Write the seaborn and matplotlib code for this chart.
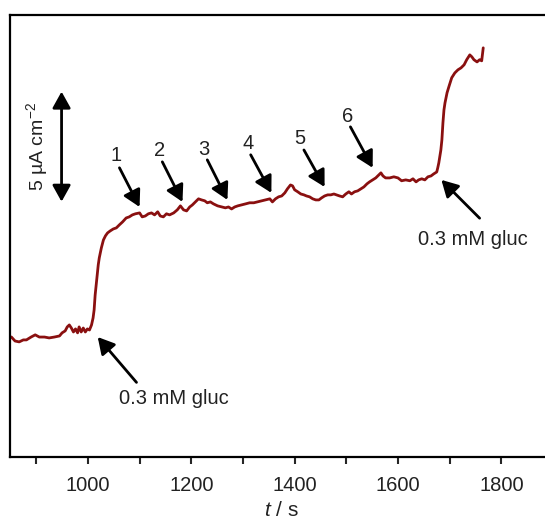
import matplotlib
matplotlib.use("Agg")
import matplotlib.pyplot as plt
import seaborn as sns
import pandas as pd
from matplotlib.ticker import MultipleLocator

sns.set_style("ticks")
plt.rcParams['font.family'] = ['Liberation Sans', 'DejaVu Sans']
plt.rcParams['mathtext.fontset'] = 'custom'
plt.rcParams['mathtext.rm'] = 'Liberation Sans'
plt.rcParams['mathtext.it'] = 'Liberation Sans:italic'

# time (s)
t = [848, 852, 859, 867, 875, 881, 890, 898, 906, 916, 925, 935, 945, 950, 956, 960,
     964, 968, 972, 976, 980, 983, 987, 991, 995, 999, 1003, 1007, 1010, 1012, 1014,
     1016, 1018, 1020, 1022, 1026, 1030, 1034, 1038, 1043, 1049, 1055, 1061, 1067,
     1074, 1080, 1086, 1092, 1100, 1105, 1111, 1117, 1123, 1129, 1135, 1140, 1146,
     1152, 1158, 1166, 1173, 1179, 1185, 1191, 1197, 1202, 1208, 1214, 1220, 1226,
     1231, 1237, 1243, 1251, 1259, 1266, 1272, 1278, 1284, 1290, 1297, 1305, 1313,
     1321, 1328, 1336, 1344, 1352, 1357, 1363, 1369, 1375, 1381, 1386, 1392, 1396,
     1400, 1406, 1412, 1418, 1423, 1429, 1435, 1441, 1447, 1452, 1458, 1464, 1470,
     1476, 1481, 1487, 1493, 1499, 1505, 1510, 1516, 1522, 1528, 1534, 1540, 1545,
     1551, 1557, 1563, 1567, 1571, 1576, 1584, 1592, 1600, 1607, 1615, 1623, 1629,
     1635, 1640, 1646, 1652, 1658, 1664, 1669, 1675, 1677, 1679, 1681, 1683, 1685,
     1687, 1689, 1691, 1695, 1699, 1704, 1710, 1716, 1722, 1728, 1733, 1739, 1743,
     1747, 1753, 1758, 1762, 1764, 1765]

# current (µA cm^-2, arbitrary offset)
current = [5.45, 5.45, 5.27, 5.23, 5.32, 5.32, 5.45, 5.55, 5.45, 5.45, 5.41, 5.45, 5.50,
           5.64, 5.73, 5.91, 6.00, 5.86, 5.68, 5.82, 5.64, 5.91, 5.68, 5.86, 5.68, 5.82,
           5.77, 6.00, 6.32, 6.68, 7.36, 7.82, 8.27, 8.73, 9.05, 9.50, 9.86, 10.05, 10.18,
           10.27, 10.36, 10.41, 10.55, 10.68, 10.86, 10.91, 11.00, 11.05, 11.09, 10.91,
           10.95, 11.05, 11.09, 11.00, 11.14, 10.95, 10.91, 11.05, 11.00, 11.09, 11.23,
           11.41, 11.23, 11.18, 11.36, 11.45, 11.59, 11.73, 11.68, 11.64, 11.55, 11.59,
           11.50, 11.41, 11.36, 11.32, 11.36, 11.27, 11.36, 11.41, 11.45, 11.50, 11.55,
           11.55, 11.59, 11.64, 11.68, 11.73, 11.59, 11.73, 11.82, 11.86, 12.00, 12.18,
           12.36, 12.32, 12.14, 12.05, 11.95, 11.91, 11.86, 11.82, 11.73, 11.68, 11.68,
           11.77, 11.86, 11.91, 11.91, 11.95, 11.91, 11.86, 11.82, 11.95, 12.05, 11.95,
           12.05, 12.09, 12.18, 12.27, 12.41, 12.50, 12.59, 12.68, 12.82, 12.91, 12.77,
           12.68, 12.68, 12.73, 12.68, 12.55, 12.59, 12.55, 12.64, 12.50, 12.59, 12.64,
           12.59, 12.73, 12.77, 12.86, 12.95, 13.14, 13.36, 13.64, 13.95, 14.41, 15.18,
           15.77, 16.09, 16.55, 16.86, 17.23, 17.45, 17.59, 17.68, 17.82, 18.05, 18.27,
           18.18, 18.05, 17.95, 18.05, 18.00, 18.41, 18.59]

step_labels = ["1", "2", "3", "4", "5", "6"]
step_label_pos = [(1054, 13.68), (1138, 13.91), (1224, 13.98), (1310, 14.23), (1411, 14.45), (1502, 15.48)]
step_tail = [(1061, 13.14), (1144, 13.41), (1231, 13.50), (1315, 13.73), (1418, 13.95), (1508, 15.00)]
step_tip = [(1100, 11.36), (1183, 11.59), (1270, 11.68), (1355, 12.00), (1458, 12.27), (1551, 13.14)]

gluc_text = "0.3 mM gluc"
gluc_text_pos = [(1167, 2.64), (1744, 9.86)]
gluc_tail = [(1094, 3.39), (1758, 10.85)]
gluc_tip = [(1019, 5.45), (1684, 12.59)]

df = pd.DataFrame({"t": t, "i": current})

fig = plt.figure(figsize=(5.45, 5.26), dpi=100)
ax = fig.add_axes([10.4 / 545, 1 - 457 / 526, (553 - 10.4) / 545, (457 - 14.6) / 526])

sns.lineplot(data=df, x="t", y="i", ax=ax, color="#8a1010", lw=2.0, sort=False)

ax.set_xlim(850, 1900)
ax.set_ylim(0, 20.1)
ax.xaxis.set_major_locator(MultipleLocator(200))
ax.xaxis.set_minor_locator(MultipleLocator(100))
ax.set_yticks([])
ax.tick_params(axis='x', which='both', direction='out', length=5, width=1.5,
               labelsize=14.5, pad=9, top=False, labelcolor='#222222')
ax.set_ylabel("")
ax.set_xlabel(r"$\it{t}$ / s", fontsize=15, labelpad=4, color='#222222')
for sp in ax.spines.values():
    sp.set_linewidth(1.6)
    sp.set_color("black")

arrow_kw = dict(arrowstyle='-|>,head_length=0.45,head_width=0.25', mutation_scale=22,
                lw=2.0, color='black', shrinkA=0, shrinkB=0)

for lab, lp, tl, tp in zip(step_labels, step_label_pos, step_tail, step_tip):
    ax.text(lp[0], lp[1], lab, ha='center', va='center', fontsize=14.5, color='#222222')
    ax.annotate("", xy=tp, xytext=tl, arrowprops=arrow_kw)

for tp_, tl, tx in zip(gluc_tip, gluc_tail, gluc_text_pos):
    ax.annotate("", xy=tp_, xytext=tl, arrowprops=arrow_kw)
    ax.text(tx[0], tx[1], gluc_text, ha='center', va='center', fontsize=14.5, color='#222222')

# scale bar 5 µA cm^-2
ax.annotate("", xy=(949, 16.6), xytext=(949, 11.6),
            arrowprops=dict(arrowstyle='<|-|>,head_length=0.45,head_width=0.25',
                            mutation_scale=22, lw=2.0, color='black',
                            shrinkA=0, shrinkB=0))
ax.text(902, 14.1, r"5 µA cm$^{-2}$", rotation=90, ha='center', va='center',
        fontsize=14, color='#222222')

fig.savefig("out.png", dpi=100)
